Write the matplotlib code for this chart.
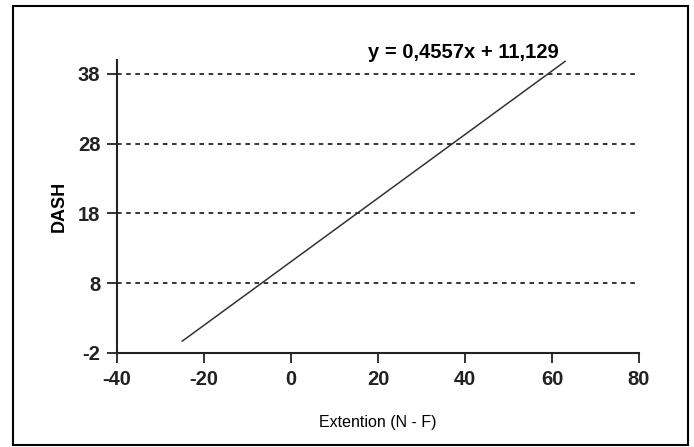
import matplotlib.pyplot as plt
from matplotlib.patches import Rectangle

# fitted line endpoints
line_x = [-25, 63]
line_y = [-0.3, 39.8]

x_ticks = [-40, -20, 0, 20, 40, 60, 80]
y_ticks = [-2, 8, 18, 28, 38]
grid_y = [8, 18, 28, 38]

equation = "y = 0,4557x + 11,129"

plt.rcParams['font.family'] = ['Liberation Sans', 'DejaVu Sans']

fig = plt.figure(figsize=(6.94, 4.47), dpi=100)
ax = fig.add_axes([117 / 694, 1 - 353 / 447, (639 - 117) / 694, (353 - 60) / 447])

# outer frame of the picture
fig.patches.append(Rectangle((13 / 694, 2 / 447), (688 - 13) / 694, (440 - 1) / 447,
                             transform=fig.transFigure, fill=False,
                             edgecolor='black', linewidth=1.5))

for gy in grid_y:
    ax.axhline(gy, color='black', linestyle=(0, (3, 3)), linewidth=1.1, zorder=1)

ax.plot(line_x, line_y, color='#333333', linewidth=1.1, zorder=2)

ax.set_xlim(-40, 80)
ax.set_ylim(-2, 40)
ax.set_xticks(x_ticks)
ax.set_yticks(y_ticks)
ax.set_xticklabels([str(v) for v in x_ticks], fontweight='bold', fontsize=14.5)
ax.set_yticklabels([str(v) for v in y_ticks], fontweight='bold', fontsize=14.5)
ax.tick_params(direction='out', length=7, width=1.3, colors='#222222')
ax.tick_params(axis='y', pad=5)
ax.tick_params(axis='x', pad=5)

for s in ['top', 'right']:
    ax.spines[s].set_visible(False)
for s in ['left', 'bottom']:
    ax.spines[s].set_linewidth(1.5)
    ax.spines[s].set_color('#222222')

ax.set_ylabel('DASH', fontweight='bold', fontsize=13, labelpad=7)
ax.set_xlabel('Extention (N - F)', fontsize=11.5, labelpad=19)

fig.text(463 / 694, 1 - 53 / 447, equation, fontsize=14.5, fontweight='bold',
         ha='center', va='center')

fig.savefig('out.png', dpi=100)
